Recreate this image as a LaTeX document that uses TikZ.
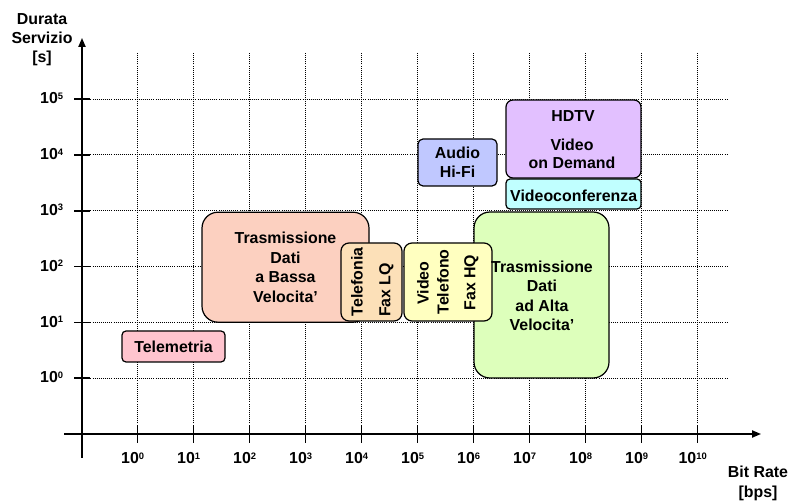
\documentclass[tikz,border=0pt]{standalone}
\usepackage{fontspec}
\setmainfont{Liberation Sans}
\usetikzlibrary{arrows.meta}
\definecolor{cTelem}{RGB}{255,196,206}
\definecolor{cBassa}{RGB}{252,208,192}
\definecolor{cTelef}{RGB}{252,224,184}
\definecolor{cYell}{RGB}{255,255,192}
\definecolor{cGreen}{RGB}{221,255,187}
\definecolor{cAudio}{RGB}{192,200,255}
\definecolor{cHDTV}{RGB}{226,192,255}
\definecolor{cVconf}{RGB}{192,255,255}
\newcommand\pw[1]{10\raisebox{2.3pt}{\fontsize{4.7}{5}\selectfont #1}}
\begin{document}
\begin{tikzpicture}[x=0.5pt,y=-0.5pt,
  gridline/.style={line width=0.5pt,dash pattern=on 0.5pt off 0.55pt},
  axisline/.style={line width=0.75pt},
  tickline/.style={line width=0.75pt},
  box/.style={draw,line width=0.6pt,inner sep=0pt},
  txt/.style={inner sep=0pt,font=\fontsize{7.95}{9.75}\selectfont\bfseries,align=center},
  lbl/.style={inner sep=0pt,font=\fontsize{7.95}{9.5}\selectfont\bfseries,align=center}]
\useasboundingbox (0,0) rectangle (788,502);
% grid
\foreach \k in {0,...,10} \draw[gridline] ({137.7+56*\k},434) -- ({137.7+56*\k},52);
\foreach \k in {0,...,5} \draw[gridline] (82,{378.2-55.8*\k}) -- (728,{378.2-55.8*\k});
% axes
\coordinate (xs) at (64,434);
\coordinate (xe) at (761,434);
\coordinate (ys) at (82,458);
\coordinate (ye) at (82,38);
\draw[axisline,-{Triangle[length=4.5pt,width=3.6pt]}] (xs) -- (xe);
\draw[axisline,-{Triangle[length=4.5pt,width=3.6pt]}] (ys) -- (ye);
\foreach \k in {0,...,10} {
  \draw[tickline] ({137.7+56*\k},426) -- ({137.7+56*\k},443);
  \node[lbl,anchor=base] (xl\k) at ({137.7+56*\k-5},464) {\pw{\k}};
}
\foreach \k in {0,...,5} {
  \draw[tickline] (74,{378.2-55.8*\k}) -- (90,{378.2-55.8*\k});
  \node[lbl,anchor=base east] (yl\k) at (63.5,{378.2-55.8*\k+4.8}) {\pw{\k}};
}
\node[lbl] (ytitle) at (42,39.5) {Durata\\Servizio\\{[s]}};
\node[lbl,font=\fontsize{7.95}{10}\selectfont\bfseries] (xtitle) at (758,483.5) {Bit Rate\\{[bps]}};
% boxes
\node[box,fill=cTelem,rounded corners=2pt,minimum width=51.5pt,minimum height=15.5pt,font=\fontsize{7.95}{9.75}\selectfont\bfseries] (telem) at (173.5,346.5) {Telemetria};
\node[box,fill=cBassa,rounded corners=8pt,minimum width=83.5pt,minimum height=55pt,font=\fontsize{7.95}{9.75}\selectfont\bfseries,align=center] (bassa) at (285.5,267.2) {Trasmissione\\Dati\\a Bassa\\Velocita'};
\node[box,fill=cTelef,rounded corners=4pt,minimum width=30.5pt,minimum height=39pt] (telef) at (371.5,282) {};
\node[txt,rotate=90] (telefA) at (357,282) {Telefonia};
\node[txt,rotate=90] (telefB) at (386.5,290) {Fax LQ};
\node[box,fill=cGreen,rounded corners=8pt,minimum width=67.5pt,minimum height=83pt] (alta) at (541.5,295) {};
\node[box,fill=cYell,rounded corners=4pt,minimum width=44pt,minimum height=39pt] (vtel) at (448,282) {};
\node[txt,rotate=90] (vtelA) at (423,283) {Video};
\node[txt,rotate=90] (vtelB) at (443,282) {Telefono};
\node[txt,rotate=90] (vtelC) at (471.5,282.5) {Fax HQ};
\node[txt] (altatxt) at (542,296) {Trasmissione\\Dati\\ad Alta\\Velocita'};
\node[box,fill=cAudio,rounded corners=2.5pt,minimum width=39.5pt,minimum height=23.5pt,font=\fontsize{7.95}{9.5}\selectfont\bfseries,align=center] (audio) at (457.5,162.5) {Audio\\Hi-Fi};
\node[box,fill=cHDTV,rounded corners=3.5pt,minimum width=67.5pt,minimum height=39pt] (hdtv) at (573.5,139) {};
\node[txt] (hdtvA) at (573,116) {HDTV};
\node[txt,font=\fontsize{7.95}{9}\selectfont\bfseries] (hdtvB) at (572,154) {Video\\on Demand};
\node[box,fill=cVconf,rounded corners=2pt,minimum width=67.5pt,minimum height=15pt] (vconf) at (573.5,194) {};
\node[txt] (vconftxt) at (573.7,196) {Videoconferenza};
\end{tikzpicture}
\end{document}
